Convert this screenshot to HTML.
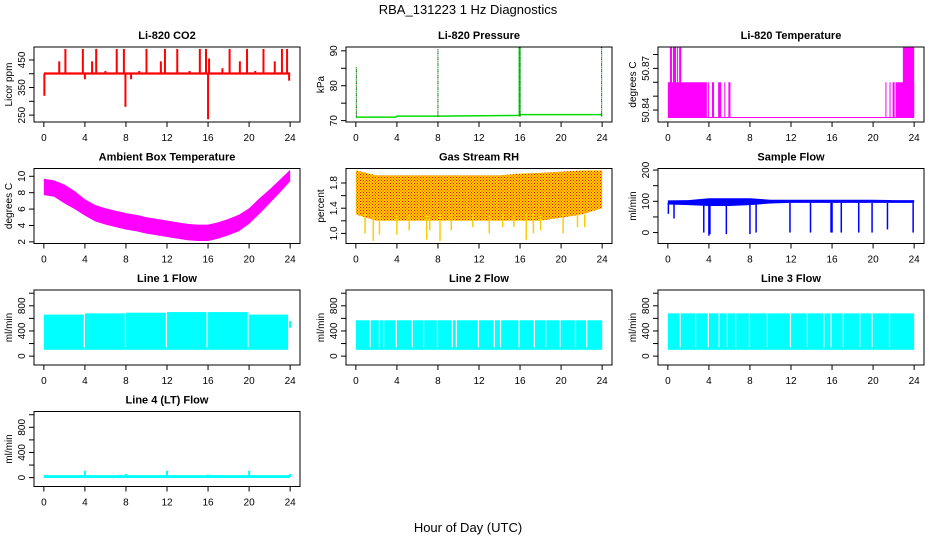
<!DOCTYPE html>
<html><head><meta charset="utf-8">
<style>
html,body{margin:0;padding:0;background:#fff;}
svg{display:block;font-family:"Liberation Sans",Arial,sans-serif;}
</style></head>
<body>
<svg id="chart" width="936" height="540" viewBox="0 0 936 540" xmlns="http://www.w3.org/2000/svg">
<defs>
<pattern id="rhpat" width="3" height="3" patternUnits="userSpaceOnUse">
<rect width="3" height="3" fill="#ffd400"/><rect x="0" y="0" width="1" height="1" fill="#f00"/><rect x="1.5" y="1.5" width="1" height="1" fill="#f00"/>
</pattern>
</defs>
<text x="468" y="14" text-anchor="middle" font-size="13">RBA_131223  1 Hz Diagnostics</text>
<text x="468" y="532" text-anchor="middle" font-size="13">Hour of Day (UTC)</text>
</svg>
<script>
// ---- data ----
const xTicks = [0,4,8,12,16,20,24];
// CO2
const co2Base = [397,405];
const co2SpikeHours = [0.05,1.5,2.1,3.8,4.0,4.7,5.1,6.0,7.1,7.8,7.95,8.5,9.3,10.0,11.4,11.8,13.0,14.2,15.2,15.8,16.0,16.1,17.4,18.1,19.1,19.8,20.6,21.4,22.5,23.2,23.7,23.9];
const co2SpikeValues = [320,445,490,490,380,445,490,410,490,490,280,380,410,490,445,490,490,410,490,490,235,455,420,490,445,490,410,490,445,490,490,375];
// Pressure
const presHours = [0,3.9,4.0,8.0,15.9,16.0,24];
const presValues = [71.0,71.0,71.3,71.3,71.5,71.7,71.7];
const presSpikeHours = [0.05,8.0,15.95,16.0,23.95];
const presSpikeValues = [85.5,90.5,91,91,91];
// Li-820 temperature: bands [start,end,level]
const tempBandStart = [0.0,0.2,0.5,0.9,1.1,0.1,3.9,4.3,4.9,5.5,5.9,21.2,21.6,21.9,22.2];
const tempBandEnd   = [0.2,0.4,0.8,1.0,1.3,3.8,4.0,4.5,5.2,5.6,6.1,21.3,21.7,22.1,24.0];
const tempBandLevel = [50.86,50.885,50.885,50.885,50.885,50.86,50.86,50.86,50.86,50.86,50.86,50.86,50.86,50.86,50.86];
const tempTopStart = [22.9], tempTopEnd = [24.0], tempTopLevel=[50.885];
const tempBase = 50.835;
// Ambient box temperature
const ambHours = [0,1,2,3,4,5,6,7,8,9,10,11,12,13,14,15,16,17,18,19,20,21,22,23,24];
const ambHigh = [9.7,9.5,9.0,8.2,7.2,6.5,6.1,5.8,5.5,5.3,5.0,4.8,4.6,4.4,4.2,4.1,4.1,4.4,4.8,5.3,6.1,7.3,8.4,9.6,10.8];
const ambLow  = [7.7,7.5,6.7,6.0,5.2,4.5,4.1,3.8,3.5,3.3,3.0,2.8,2.6,2.4,2.2,2.1,2.1,2.4,2.8,3.3,4.2,5.4,6.7,8.0,9.4];
// Gas stream RH
const rhHours = [0,2,4,6,8,10,12,14,16,18,20,22,24];
const rhHigh = [2.0,1.92,1.92,1.92,1.92,1.92,1.92,1.92,1.95,1.96,1.98,2.0,2.0];
const rhLow  = [1.3,1.2,1.2,1.2,1.2,1.2,1.2,1.2,1.2,1.2,1.25,1.3,1.4];
const rhDipHours = [0.9,1.7,2.3,4.0,5.2,6.9,7.2,8.2,9.3,11.4,13.0,14.3,15.4,16.6,17.3,18.0,20.2,21.6,22.3];
const rhDipValues = [1.0,0.88,0.98,0.98,1.05,0.9,1.05,0.88,1.05,1.1,1.0,1.1,1.1,0.9,1.0,1.05,1.0,1.1,1.1];
// Sample flow
const sfHours = [0,2,4,6,8,10,12,14,16,18,20,22,24];
const sfHigh = [103,104,110,110,110,105,105,105,105,105,105,104,104];
const sfLow  = [90,88,85,85,88,93,95,95,95,95,95,95,95];
const sfDipHours = [0.05,0.6,3.5,4.0,4.1,5.7,8.0,8.6,11.9,13.9,15.9,16.0,16.9,18.6,19.9,21.4,23.9];
const sfDipValues = [60,45,0,-10,-5,-5,-5,0,0,0,0,0,0,0,0,10,0];
// Line flows
const l1Hours = [0,4,8,12,16,20,23.8];
const l1Top = [660,680,690,700,700,660,660];
const l1Bottom = 100;
const l1Gaps = [3.95,7.95,11.95,15.9,19.9];
const l2Hours = [0,24];
const l2Top = [570,570];
const l2Bottom = 100;
const l2Gaps = [1.4,2.3,2.7,3.95,5.5,6.6,7.95,9.4,9.8,11.95,13.5,14.1,15.9,17.4,18.5,19.9,21.4,22.5];
const l3Hours = [0,24];
const l3Top = [680,680];
const l3Bottom = 100;
const l3Gaps = [1.2,2.7,3.95,5.0,5.8,6.6,7.95,9.7,11.95,13.6,15.2,15.9,17.1,18.7,19.9,21.6];
const l4Base = 15;
const l4SpikeHours = [4.0,8.0,12.0,16.0,20.0,24.0];
const l4SpikeValues = [110,60,110,50,110,60];

// ---- drawing ----
const svg = document.getElementById('chart');
const NS = 'http://www.w3.org/2000/svg';
function mk(tag, attrs, parent){
  const e = document.createElementNS(NS, tag);
  for (const k in attrs) e.setAttribute(k, attrs[k]);
  (parent||svg).appendChild(e);
  return e;
}
const colL = [34,346,658], rowT = [47,168.5,290,411.5], W = 266, H = 75;
function panel(col,row,title,ylab,dom,ticks,labels,name){
  const L = colL[col], T = rowT[row];
  const g = mk('g',{});
  
  
  const x = h => L + (h+0.96)*W/25.92;
  const y = v => T + (dom[1]-v)/(dom[1]-dom[0])*H;
  const p = {g,x,y,L,T};
  const plot = mk('g',{}, g);
  
  
  p.plot = plot;
  // axes drawn after data via finish
  p.finish = () => {
    const box = mk('rect',{x:L,y:T,width:W,height:H,fill:'none',stroke:'#000','stroke-width':1}, g);
    
    
    const t = mk('text',{x:L+W/2,y:T-8,'text-anchor':'middle','font-size':11,'font-weight':'bold'}, g);
    t.textContent = title;
    
    
    const xa = mk('g',{}, g);
    
    
    mk('line',{x1:x(0),x2:x(24),y1:T+H,y2:T+H,stroke:'#000'},xa);
    xTicks.forEach(v=>{
      mk('line',{x1:x(v),x2:x(v),y1:T+H,y2:T+H+5,stroke:'#000'},xa);
      const tl = mk('text',{x:x(v),y:T+H+19,'text-anchor':'middle','font-size':10},xa);
      tl.textContent = v;
      
      
    });
    const ya = mk('g',{}, g);
    
    
    mk('line',{x1:L,x2:L,y1:y(ticks[0]),y2:y(ticks[ticks.length-1]),stroke:'#000'},ya);
    ticks.forEach(v=>{
      mk('line',{x1:L-5,x2:L,y1:y(v),y2:y(v),stroke:'#000'},ya);
    });
    labels.forEach(v=>{
      const yy = y(v);
      const tl = mk('text',{x:0,y:0,'text-anchor':'middle','font-size':10,transform:`translate(${L-9},${yy}) rotate(-90)`},ya);
      tl.textContent = v;
      
      
    });
    const yl = mk('text',{x:0,y:0,'text-anchor':'middle','font-size':10,transform:`translate(${L-22},${T+H/2}) rotate(-90)`},g);
    yl.textContent = ylab;
    
    
  };
  return p;
}
function vline(p,h,v1,v2,color,w,name){
  const e = mk('line',{x1:p.x(h),x2:p.x(h),y1:p.y(v1),y2:p.y(v2),stroke:color,'stroke-width':w||1},p.plot);
  
  
  return e;
}
function band(p,hours,hi,lo,fill,name){
  let pts=[];
  hours.forEach((h,i)=>pts.push(p.x(h)+','+p.y(hi[i])));
  for(let i=hours.length-1;i>=0;i--) pts.push(p.x(hours[i])+','+p.y(Array.isArray(lo)?lo[i]:lo));
  const e = mk('polygon',{points:pts.join(' '),fill:fill},p.plot);
  
  
  return e;
}
function stepBand(p,hours,top,bottom,fill,name){
  for(let i=0;i<hours.length-1;i++){
    const e = mk('rect',{x:p.x(hours[i]),y:p.y(top[i]),width:p.x(hours[i+1])-p.x(hours[i]),height:p.y(bottom)-p.y(top[i]),fill:fill},p.plot);
    
    
  }
}

// CO2
let p = panel(0,0,'Li-820 CO2','Licor ppm',[225,497],[250,300,350,400,450],[250,350,450],'co2');
band(p,[0,24],[co2Base[1],co2Base[1]],co2Base[0],'#f00','co2-baseline');
co2SpikeHours.forEach((h,i)=>vline(p,h,400,co2SpikeValues[i],'#f00',2,'co2-spike'));
p.finish();

// Pressure
p = panel(1,0,'Li-820 Pressure','kPa',[69.6,91.1],[70,75,80,85,90],[70,80,90],'pressure');
const pl = mk('polyline',{points:presHours.map((h,i)=>p.x(h)+','+p.y(presValues[i])).join(' '),fill:'none',stroke:'#0d0','stroke-width':1.5},p.plot);


presSpikeHours.forEach((h,i)=>{
  const e = vline(p,h,71.2,presSpikeValues[i],i===2?'#0d0':'#000',i===2?2:1,'pressure-spike');
  if(i!==2) e.setAttribute('stroke-dasharray','1,1');
  vline(p,h,72,presSpikeValues[i]-0.3,'#0d0',1,'pressure-spike-green').setAttribute('stroke-dasharray','1,2');
});
p.finish();

// Li-820 temp
p = panel(2,0,'Li-820 Temperature','degrees C',[50.8314,50.8854],[50.84,50.85,50.86,50.87,50.88],[50.84,50.87],'li820-temp');
band(p,[0,24],[tempBase,tempBase],tempBase-0.0007,'#f0f','temp-baseline');
tempBandStart.forEach((s,i)=>{
  const e = mk('rect',{x:p.x(s),y:p.y(tempBandLevel[i]),width:Math.max(1,p.x(tempBandEnd[i])-p.x(s)),height:p.y(tempBase)-p.y(tempBandLevel[i]),fill:'#f0f'},p.plot);
  
  
});
tempTopStart.forEach((s,i)=>{
  const e = mk('rect',{x:p.x(s),y:p.y(tempTopLevel[i]),width:p.x(tempTopEnd[i])-p.x(s),height:p.y(tempBase)-p.y(tempTopLevel[i]),fill:'#f0f'},p.plot);
  
  
});
p.finish();

// Ambient
p = panel(0,1,'Ambient Box Temperature','degrees C',[1.8,10.95],[2,4,6,8,10],[2,4,6,8,10],'ambient');
band(p,ambHours,ambHigh,ambLow,'#f0f','ambient-band');
p.finish();

// RH
p = panel(1,1,'Gas Stream RH','percent',[0.84,2.03],[1.0,1.2,1.4,1.6,1.8],['1.0','1.4','1.8'],'rh');
band(p,rhHours,rhHigh,rhLow,'url(#rhpat)','rh-band');
rhDipHours.forEach((h,i)=>vline(p,h,1.3,rhDipValues[i],'#fc0',1.5,'rh-dip'));
p.finish();

// Sample flow
p = panel(2,1,'Sample Flow','ml/min',[-35,205],[0,50,100,150,200],[0,100,200],'sample-flow');
band(p,sfHours,sfHigh,sfLow,'#00f','sample-flow-band');
sfDipHours.forEach((h,i)=>vline(p,h,95,sfDipValues[i],'#00f',1.5,'sample-flow-dip'));
p.finish();

// Line flows
const fdom = [-141,1051], fticks=[0,200,400,600,800,1000], flabels=[0,400,800];
function flowPanel(col,row,title,name,hours,top,bottom,gaps){
  const q = panel(col,row,title,'ml/min',fdom,fticks,flabels,name);
  stepBand(q,hours,top,bottom,'#0ff',name+'-band');
  gaps.forEach(h=>{
    const e = mk('line',{x1:q.x(h),x2:q.x(h),y1:q.y(top[0]+40),y2:q.y(bottom+40),stroke:'#fff','stroke-width':1.2},q.plot);
    
    
  });
  return q;
}
p = flowPanel(0,2,'Line 1 Flow','line1-flow',l1Hours,l1Top,l1Bottom,l1Gaps);
vline(p,24,450,560,'#0ff',2,'line1-flow-end');
p.finish();
p = flowPanel(1,2,'Line 2 Flow','line2-flow',l2Hours,l2Top,l2Bottom,l2Gaps);
p.finish();
p = flowPanel(2,2,'Line 3 Flow','line3-flow',l3Hours,l3Top,l3Bottom,l3Gaps);
p.finish();
p = panel(0,3,'Line 4 (LT) Flow','ml/min',fdom,fticks,flabels,'line4-flow');
band(p,[0,24],[l4Base+25,l4Base+25],l4Base-20,'#0ff','line4-baseline');
l4SpikeHours.forEach((h,i)=>vline(p,h,l4Base,l4SpikeValues[i],'#0ff',2,'line4-spike'));
p.finish();
</script>
</body></html>
